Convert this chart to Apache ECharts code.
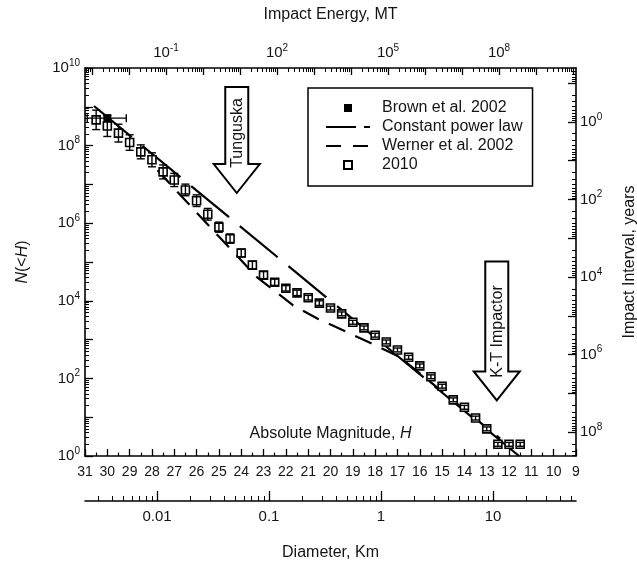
<!DOCTYPE html>
<html>
<head>
<meta charset="utf-8">
<script src="https://cdn.jsdelivr.net/npm/echarts@6/dist/echarts.min.js"></script>
<style>
  html, body { margin: 0; padding: 0; background: #fff; }
  #chart-container { width: 637px; height: 562px; }
</style>
</head>
<body>
<div id="chart-container"></div>
<script>
// 2010 estimate: absolute magnitude H, cumulative number N(<H), error half-width (dex)
const survey2010H = [30.5, 30, 29.5, 29, 28.5, 28, 27.5, 27, 26.5, 26, 25.5, 25, 24.5, 24, 23.5, 23, 22.5, 22,
  21.5, 21, 20.5, 20, 19.5, 19, 18.5, 18, 17.5, 17, 16.5, 16, 15.5, 15, 14.5, 14, 13.5, 13, 12.5, 12, 11.5];
const survey2010N = [4.6e8, 3.2e8, 2.1e8, 1.2e8, 6.9e7, 4.3e7, 2.1e7, 1.3e7, 7.2e6, 3.8e6, 1.7e6, 7.9e5, 4.0e5,
  1.7e5, 8.3e4, 4.6e4, 3.0e4, 2.1e4, 1.6e4, 1.2e4, 8.7e3, 6.5e3, 4.6e3, 2.8e3, 2.0e3, 1.3e3, 870, 540, 350,
  210, 110, 63, 28, 18, 9.5, 5, 2, 2, 2];
const survey2010Err = [0.25, 0.27, 0.23, 0.2, 0.18, 0.18, 0.18, 0.17, 0.15, 0.15, 0.15, 0.13, 0.12, 0.1, 0.1,
  0.09, 0.08, 0.07, 0.07, 0.06, 0.06, 0.05, 0.05, 0.05, 0.05, 0.05, 0.05, 0.05, 0.05, 0.05, 0.05, 0.05, 0.05,
  0.05, 0.05, 0.05, 0.05, 0.05, 0.05];

// Brown et al. 2002 bolide point with its H range
const brownH = [30];
const brownN = [5.1e8];
const brownHLow = [29.15];
const brownHHigh = [30.9];

// constant power law and Werner et al. 2002 curves
const powerLawH = [30.6, 11.55];
const powerLawN = [1.05e9, 1];
const wernerH = [27.75, 24.95, 23.3, 21.7, 20.55, 18.3, 16.9, 12.4];
const wernerN = [2.3e7, 4.2e5, 4.1e4, 7.8e3, 3.4e3, 870, 355, 2.8];

// tick labels
const nLabels = [1, 1e2, 1e4, 1e6, 1e8, 1e10];
const intervalDecades = [0.1, 1, 10, 1e2, 1e3, 1e4, 1e5, 1e6, 1e7, 1e8];
const intervalLabels = [1, 1e2, 1e4, 1e6, 1e8];
const energyDecades = [1e-3, 1e-2, 1e-1, 1, 10, 1e2, 1e3, 1e4, 1e5, 1e6, 1e7, 1e8, 1e9, 1e10];
const energyLabels = [1e-1, 1e2, 1e5, 1e8];
const diameterDecades = [0.01, 0.1, 1, 10];

// annotation arrows (tip in H, N)
const tunguskaTip = [24.2, 6e6];
const ktTip = [12.55, 27];

const FONT = 'Liberation Sans, Arial, sans-serif';
const INK = '#141414';

// axis ranges that line up with the H / N frame
const energyRange = [Math.pow(10, -3.19), Math.pow(10, 10.08)];
const intervalRange = [Math.pow(10, -1.39), Math.pow(10, 8.61)];
const diameterRange = [0.002275, 55.1];

const minorTicks = (decades, range) => {
  let out = [];
  decades.concat([decades[0] / 10]).forEach(d => {
    for (let m = 2; m <= 9; m++) {
      const v = +(m * d).toPrecision(6);
      if (v > range[0] && v < range[1]) out.push(v);
    }
  });
  return out;
};

const powLabel = v => '{b|10}{s|' + Math.round(Math.log10(v)) + '}';
const powRich = {
  b: { fontSize: 15, fontFamily: FONT, color: INK, lineHeight: 20 },
  s: { fontSize: 10, fontFamily: FONT, color: INK, lineHeight: 12, verticalAlign: 'top' }
};
const nameStyle = {
  fontSize: 16, fontFamily: FONT, color: INK,
  rich: { i: { fontSize: 16, fontFamily: FONT, color: INK, fontStyle: 'italic' } }
};
const axisLineStyle = { show: true, onZero: false, lineStyle: { color: '#000', width: 1.6 } };
const hidden = { show: false };

const errorBars = survey2010H.map((h, i) => [
  h, survey2010N[i] / Math.pow(10, survey2010Err[i]), survey2010N[i] * Math.pow(10, survey2010Err[i])
]);
const brownBars = brownH.map((h, i) => [brownN[i], brownHLow[i], brownHHigh[i]]);

const barStyle = { stroke: '#000', lineWidth: 1.4 };

const chart = echarts.init(document.getElementById('chart-container'));
const option = {
  animation: false,
  backgroundColor: '#fff',
  textStyle: { fontFamily: FONT },
  grid: { left: 85, right: 61, top: 68, bottom: 106, outerBoundsMode: 'none' },
  legend: {
    orient: 'vertical', left: 308, top: 88,
    borderColor: '#000', borderWidth: 1.5, padding: [12, 10, 13, 17],
    itemWidth: 44, itemHeight: 10, itemGap: 3, selectedMode: false,
    textStyle: { fontSize: 16, fontFamily: FONT, color: INK, lineHeight: 16, padding: [0, 0, 0, 7] },
    data: [
      { name: 'Brown et al. 2002', lineStyle: { opacity: 0 } },
      { name: 'Constant power law', itemStyle: { opacity: 0 }, lineStyle: { type: [30, 8] } },
      { name: 'Werner et al. 2002', itemStyle: { opacity: 0 }, lineStyle: { type: [15, 12] } },
      { name: '2010', lineStyle: { opacity: 0 } }
    ]
  },
  xAxis: [
    { // absolute magnitude
      type: 'value', position: 'bottom', min: 9, max: 31, interval: 1, inverse: true,
      axisLine: axisLineStyle,
      axisTick: { show: true, inside: true, length: 7, lineStyle: { color: '#000', width: 1.3 } },
      minorTick: { show: true, splitNumber: 2, length: 3.5, lineStyle: { color: '#000', width: 1.2 } },
      splitLine: hidden,
      axisLabel: { fontSize: 14, fontFamily: FONT, color: INK, margin: 9 },
      name: 'Absolute Magnitude, {i|H}', nameLocation: 'middle', nameGap: -30,
      nameMoveOverlap: false, nameTextStyle: nameStyle
    },
    { // impact energy (major)
      type: 'log', position: 'top', min: energyRange[0], max: energyRange[1],
      axisLine: axisLineStyle,
      axisTick: { show: true, inside: true, length: 7, customValues: energyDecades, lineStyle: { color: '#000', width: 1.3 } },
      splitLine: hidden,
      axisLabel: { customValues: energyLabels, formatter: powLabel, rich: powRich, margin: 5 },
      name: 'Impact Energy, MT', nameLocation: 'middle', nameGap: 45,
      nameMoveOverlap: false, nameTextStyle: nameStyle
    },
    { // impact energy (minor)
      type: 'log', position: 'top', min: energyRange[0], max: energyRange[1],
      axisLine: hidden, splitLine: hidden, axisLabel: hidden,
      axisTick: { show: true, inside: true, length: 4, customValues: minorTicks(energyDecades, energyRange), lineStyle: { color: '#000', width: 1 } }
    },
    { // diameter (major)
      type: 'log', position: 'bottom', offset: 45, min: diameterRange[0], max: diameterRange[1],
      axisLine: axisLineStyle,
      axisTick: { show: true, inside: true, length: 10, customValues: diameterDecades, lineStyle: { color: '#000', width: 1.3 } },
      splitLine: hidden,
      axisLabel: { customValues: diameterDecades, formatter: v => String(+v.toPrecision(3)), fontSize: 15, fontFamily: FONT, color: INK, margin: 8 },
      name: 'Diameter, Km', nameLocation: 'middle', nameGap: 44,
      nameMoveOverlap: false, nameTextStyle: nameStyle
    },
    { // diameter (minor)
      type: 'log', position: 'bottom', offset: 45, min: diameterRange[0], max: diameterRange[1],
      axisLine: hidden, splitLine: hidden, axisLabel: hidden,
      axisTick: { show: true, inside: true, length: 5, customValues: minorTicks(diameterDecades, diameterRange), lineStyle: { color: '#000', width: 1 } }
    }
  ],
  yAxis: [
    { // N(<H)
      type: 'log', logBase: 10, position: 'left', min: 1, max: 1e10, interval: 1,
      axisLine: axisLineStyle,
      axisTick: { show: true, inside: true, length: 8, lineStyle: { color: '#000', width: 1.3 } },
      minorTick: { show: true, splitNumber: 9, length: 4, lineStyle: { color: '#000', width: 1 } },
      splitLine: hidden, minorSplitLine: hidden,
      axisLabel: {
        interval: 0, margin: 5, rich: powRich,
        formatter: v => nLabels.some(t => Math.abs(Math.log10(t) - Math.log10(v)) < 1e-6) ? powLabel(v) : ''
      },
      name: '{i|N}(<{i|H})', nameLocation: 'middle', nameGap: 54,
      nameMoveOverlap: false, nameTextStyle: nameStyle
    },
    { // impact interval (major)
      type: 'log', position: 'right', min: intervalRange[0], max: intervalRange[1], inverse: true,
      axisLine: axisLineStyle,
      axisTick: { show: true, inside: true, length: 8, customValues: intervalDecades, lineStyle: { color: '#000', width: 1.3 } },
      splitLine: hidden,
      axisLabel: { customValues: intervalLabels, formatter: powLabel, rich: powRich, margin: 4 },
      name: 'Impact Interval, years', nameLocation: 'middle', nameGap: 46,
      nameMoveOverlap: false, nameTextStyle: nameStyle
    },
    { // impact interval (minor)
      type: 'log', position: 'right', min: intervalRange[0], max: intervalRange[1], inverse: true,
      axisLine: hidden, splitLine: hidden, axisLabel: hidden,
      axisTick: { show: true, inside: true, length: 4, customValues: minorTicks(intervalDecades, intervalRange), lineStyle: { color: '#000', width: 1 } }
    }
  ],
  series: [
    {
      name: 'Constant power law', type: 'line', symbol: 'none', z: 3, silent: true,
      data: powerLawH.map((h, i) => [h, powerLawN[i]]),
      lineStyle: { color: '#000', width: 2.2, type: [49, 14] }, itemStyle: { color: '#000' }
    },
    {
      name: 'Werner et al. 2002', type: 'line', symbol: 'none', z: 3, silent: true,
      data: wernerH.map((h, i) => [h, wernerN[i]]),
      lineStyle: { color: '#000', width: 2.2, type: [18, 11] }, itemStyle: { color: '#000' }
    },
    {
      name: '2010', type: 'line', symbol: 'rect', symbolSize: 8, z: 4, silent: true,
      data: survey2010H.map((h, i) => [h, survey2010N[i]]),
      lineStyle: { width: 0, opacity: 0 },
      itemStyle: { color: '#fff', borderColor: '#000', borderWidth: 1.6 }
    },
    {
      name: '2010 error', type: 'custom', z: 5, silent: true,
      data: errorBars, encode: { x: 0, y: [1, 2] },
      renderItem: (params, api) => {
        const lo = api.coord([api.value(0), api.value(1)]);
        const hi = api.coord([api.value(0), api.value(2)]);
        return { type: 'group', children: [
          { type: 'line', shape: { x1: lo[0], y1: lo[1], x2: hi[0], y2: hi[1] }, style: barStyle },
          { type: 'line', shape: { x1: lo[0] - 4, y1: lo[1], x2: lo[0] + 4, y2: lo[1] }, style: barStyle },
          { type: 'line', shape: { x1: hi[0] - 4, y1: hi[1], x2: hi[0] + 4, y2: hi[1] }, style: barStyle }
        ] };
      }
    },
    {
      name: 'Brown et al. 2002', type: 'line', symbol: 'rect', symbolSize: 8, z: 6, silent: true,
      data: brownH.map((h, i) => [h, brownN[i]]),
      lineStyle: { width: 0, opacity: 0 }, itemStyle: { color: '#000' }
    },
    {
      name: 'Brown error', type: 'custom', z: 6, silent: true,
      data: brownBars, encode: { x: [1, 2], y: 0 },
      renderItem: (params, api) => {
        const a = api.coord([api.value(1), api.value(0)]);
        const b = api.coord([api.value(2), api.value(0)]);
        return { type: 'group', children: [
          { type: 'line', shape: { x1: a[0], y1: a[1], x2: b[0], y2: b[1] }, style: barStyle },
          { type: 'line', shape: { x1: a[0], y1: a[1] - 4, x2: a[0], y2: a[1] + 4 }, style: barStyle },
          { type: 'line', shape: { x1: b[0], y1: b[1] - 4, x2: b[0], y2: b[1] + 4 }, style: barStyle }
        ] };
      }
    }
  ]
};
chart.setOption(option);

// big hollow arrows marking Tunguska and the K-T impactor
const arrow = (tip, shaftLen, label, labelOffset) => {
  const p = chart.convertToPixel({ xAxisIndex: 0, yAxisIndex: 0 }, tip);
  const sw = 11.5, hw = 23, hh = 29;
  const x = p[0], y = p[1];
  return [
    {
      type: 'polygon', z: 20,
      shape: { points: [
        [x - sw, y - hh - shaftLen], [x + sw, y - hh - shaftLen], [x + sw, y - hh],
        [x + hw, y - hh], [x, y], [x - hw, y - hh], [x - sw, y - hh]
      ] },
      style: { fill: '#fff', stroke: '#000', lineWidth: 2 }
    },
    {
      type: 'text', z: 21, x: x + 1, y: y - labelOffset, rotation: Math.PI / 2,
      style: { text: label, fontSize: 16, fontFamily: FONT, fill: INK, align: 'center', verticalAlign: 'middle' }
    }
  ];
};
chart.setOption({
  graphic: [].concat(
    arrow(tunguskaTip, 77, 'Tunguska', 60),
    arrow(ktTip, 110, 'K-T Impactor', 69)
  )
});
</script>
</body>
</html>
